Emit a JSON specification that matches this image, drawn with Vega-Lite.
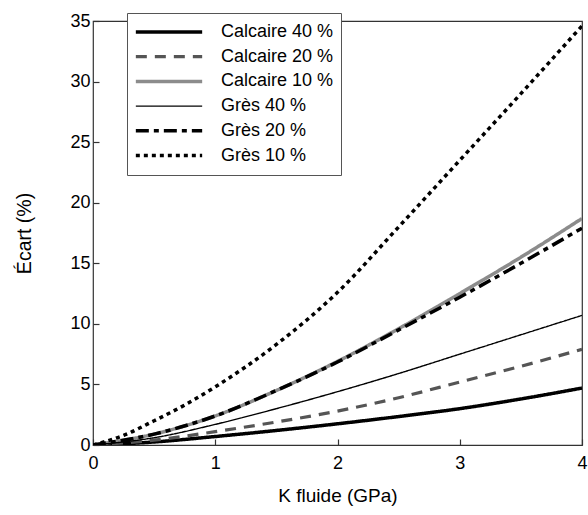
{
  "$schema": "https://vega.github.io/schema/vega-lite/v6.json",
  "width": 489,
  "height": 424,
  "autosize": "none",
  "padding": {"left": 93, "top": 21, "right": 6, "bottom": 70},
  "background": "white",
  "config": {
    "font": "Liberation Sans",
    "view": {"stroke": "#333", "strokeWidth": 1.2},
    "axis": {"grid": false, "domain": false, "tickColor": "#333", "tickSize": -6, "tickWidth": 1.2, "labelFlush": false,
             "labelFont": "Liberation Sans", "labelFontSize": 18, "labelColor": "black",
             "titleFont": "Liberation Sans", "titleFontSize": 19, "titleFontWeight": "normal", "titleColor": "black"}
  },
  "data": {"values": [
    {"k": 0, "v": 0, "s": "Calcaire 40 %"}, {"k": 0.5, "v": 0.25, "s": "Calcaire 40 %"}, {"k": 1, "v": 0.7, "s": "Calcaire 40 %"}, {"k": 1.5, "v": 1.2, "s": "Calcaire 40 %"}, {"k": 2, "v": 1.75, "s": "Calcaire 40 %"}, {"k": 2.5, "v": 2.35, "s": "Calcaire 40 %"}, {"k": 3, "v": 3.0, "s": "Calcaire 40 %"}, {"k": 3.5, "v": 3.8, "s": "Calcaire 40 %"}, {"k": 4, "v": 4.7, "s": "Calcaire 40 %"},
    {"k": 0, "v": 0, "s": "Calcaire 20 %"}, {"k": 0.5, "v": 0.4, "s": "Calcaire 20 %"}, {"k": 1, "v": 1.1, "s": "Calcaire 20 %"}, {"k": 1.5, "v": 1.9, "s": "Calcaire 20 %"}, {"k": 2, "v": 2.8, "s": "Calcaire 20 %"}, {"k": 2.5, "v": 3.9, "s": "Calcaire 20 %"}, {"k": 3, "v": 5.2, "s": "Calcaire 20 %"}, {"k": 3.5, "v": 6.5, "s": "Calcaire 20 %"}, {"k": 4, "v": 7.9, "s": "Calcaire 20 %"},
    {"k": 0, "v": 0, "s": "Calcaire 10 %"}, {"k": 0.5, "v": 0.9, "s": "Calcaire 10 %"}, {"k": 1, "v": 2.4, "s": "Calcaire 10 %"}, {"k": 1.5, "v": 4.5, "s": "Calcaire 10 %"}, {"k": 2, "v": 6.9, "s": "Calcaire 10 %"}, {"k": 2.5, "v": 9.6, "s": "Calcaire 10 %"}, {"k": 3, "v": 12.5, "s": "Calcaire 10 %"}, {"k": 3.5, "v": 15.5, "s": "Calcaire 10 %"}, {"k": 4, "v": 18.7, "s": "Calcaire 10 %"},
    {"k": 0, "v": 0, "s": "Grès 40 %"}, {"k": 0.5, "v": 0.6, "s": "Grès 40 %"}, {"k": 1, "v": 1.7, "s": "Grès 40 %"}, {"k": 1.5, "v": 3.0, "s": "Grès 40 %"}, {"k": 2, "v": 4.4, "s": "Grès 40 %"}, {"k": 2.5, "v": 5.9, "s": "Grès 40 %"}, {"k": 3, "v": 7.5, "s": "Grès 40 %"}, {"k": 3.5, "v": 9.1, "s": "Grès 40 %"}, {"k": 4, "v": 10.7, "s": "Grès 40 %"},
    {"k": 0, "v": 0, "s": "Grès 20 %"}, {"k": 0.5, "v": 0.9, "s": "Grès 20 %"}, {"k": 1, "v": 2.4, "s": "Grès 20 %"}, {"k": 1.5, "v": 4.5, "s": "Grès 20 %"}, {"k": 2, "v": 6.85, "s": "Grès 20 %"}, {"k": 2.5, "v": 9.5, "s": "Grès 20 %"}, {"k": 3, "v": 12.2, "s": "Grès 20 %"}, {"k": 3.5, "v": 15.0, "s": "Grès 20 %"}, {"k": 4, "v": 17.9, "s": "Grès 20 %"},
    {"k": 0, "v": 0, "s": "Grès 10 %"}, {"k": 0.25, "v": 0.8, "s": "Grès 10 %"}, {"k": 0.5, "v": 2.0, "s": "Grès 10 %"}, {"k": 0.75, "v": 3.3, "s": "Grès 10 %"}, {"k": 1, "v": 4.8, "s": "Grès 10 %"}, {"k": 1.5, "v": 8.3, "s": "Grès 10 %"}, {"k": 2, "v": 12.6, "s": "Grès 10 %"}, {"k": 2.5, "v": 18.0, "s": "Grès 10 %"}, {"k": 3, "v": 23.5, "s": "Grès 10 %"}, {"k": 3.5, "v": 29.0, "s": "Grès 10 %"}, {"k": 4, "v": 34.6, "s": "Grès 10 %"}
  ]},
  "mark": {"type": "line", "interpolate": "monotone", "clip": true},
  "encoding": {
    "x": {"field": "k", "type": "quantitative", "scale": {"domain": [0, 4], "nice": false},
          "axis": {"values": [0, 1, 2, 3, 4], "title": "K fluide (GPa)", "labelPadding": 15, "titlePadding": 14}},
    "y": {"field": "v", "type": "quantitative", "scale": {"domain": [0, 35], "nice": false},
          "axis": {"values": [0, 5, 10, 15, 20, 25, 30, 35], "title": "Écart (%)", "labelPadding": 9, "titlePadding": 35, "titleFontSize": 19.5}},
    "color": {"field": "s", "type": "nominal",
              "scale": {"domain": ["Calcaire 40 %", "Calcaire 20 %", "Calcaire 10 %", "Grès 40 %", "Grès 20 %", "Grès 10 %"],
                        "range": ["#000000", "#555555", "#8c8c8c", "#000000", "#000000", "#000000"]},
              "legend": {"title": null, "orient": "none", "legendX": 34, "legendY": -8,
                         "strokeColor": "#555", "fillColor": "white", "padding": 7,
                         "symbolType": "stroke", "symbolSize": 4400, "clipHeight": 24,
                         "labelFont": "Liberation Sans", "labelFontSize": 18, "labelColor": "black", "labelOffset": 17, "rowPadding": 0.7}},
    "strokeDash": {"field": "s", "type": "nominal",
                   "scale": {"domain": ["Calcaire 40 %", "Calcaire 20 %", "Calcaire 10 %", "Grès 40 %", "Grès 20 %", "Grès 10 %"],
                             "range": [[1, 0], [11, 8], [1, 0], [1, 0], [13, 5, 5, 5], [4, 4]]},
                   "legend": null},
    "strokeWidth": {"field": "s", "type": "nominal",
                    "scale": {"type": "ordinal", "domain": ["Calcaire 40 %", "Calcaire 20 %", "Calcaire 10 %", "Grès 40 %", "Grès 20 %", "Grès 10 %"],
                              "range": [3.5, 3.2, 3.5, 1.4, 3.5, 3.5]},
                    "legend": null}
  }
}
